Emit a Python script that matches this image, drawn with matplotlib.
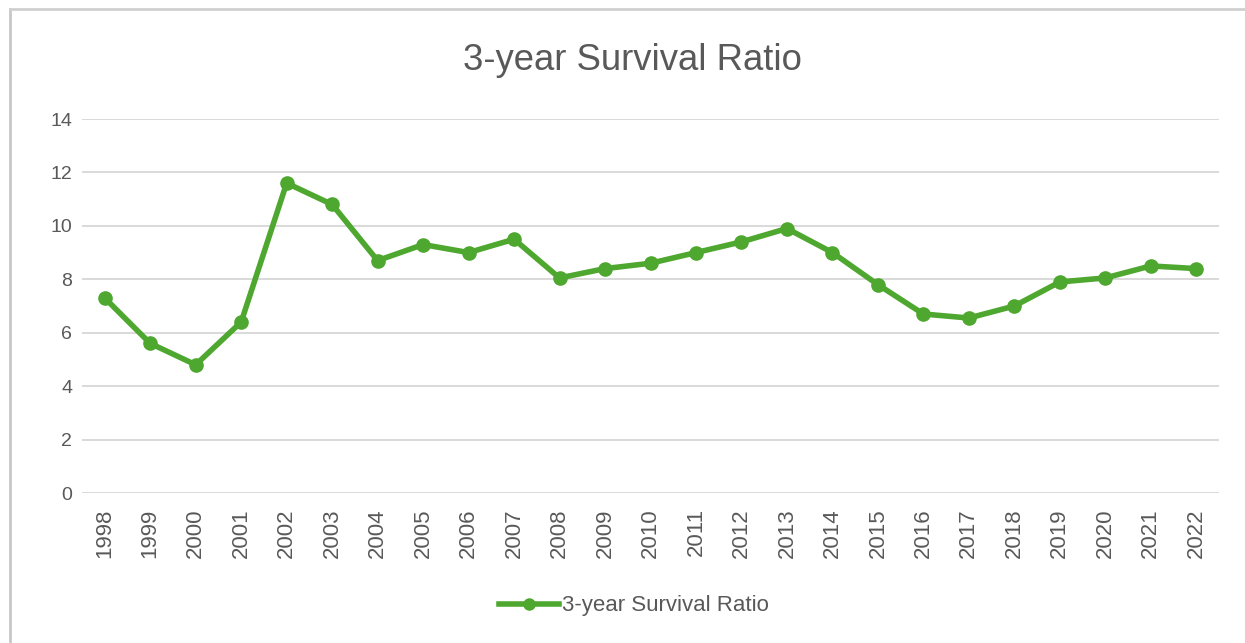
import matplotlib
matplotlib.use("Agg")
import matplotlib.pyplot as plt
from matplotlib.lines import Line2D

years = [str(y) for y in range(1998, 2023)]
survival_ratio = [7.3, 5.6, 4.8, 6.4, 11.6, 10.8, 8.7, 9.3, 9.0, 9.5,
                  8.05, 8.4, 8.6, 9.0, 9.4, 9.9, 9.0, 7.8, 6.7, 6.55,
                  7.0, 7.9, 8.05, 8.5, 8.4]
y_ticks = [0, 2, 4, 6, 8, 10, 12, 14]

title_text = "3-year Survival Ratio"
series_name = "3-year Survival Ratio"

green = "#4ea72e"
grey_text = "#595959"
grid_color = "#d9d9d9"
regular = ["Liberation Sans", "DejaVu Sans"]

fig = plt.figure(figsize=(12.45, 6.43), dpi=100)
fig.patch.set_facecolor("white")

# chart-area frame (top and left edges)
fig.add_artist(Line2D([10 / 1245, 10 / 1245], [0, 1 - 9 / 643],
                      color="#c8c8c8", lw=2.0, transform=fig.transFigure))
fig.add_artist(Line2D([10 / 1245, 1], [1 - 9 / 643, 1 - 9 / 643],
                      color="#d0d0d0", lw=2.0, transform=fig.transFigure))

ax = fig.add_axes([82 / 1245, 1 - 493 / 643, (1219 - 82) / 1245, (493 - 119) / 643])
x = list(range(len(years)))
ax.plot(x, survival_ratio, color=green, lw=4.0, marker="o", markersize=9.5,
        markerfacecolor=green, markeredgecolor=green, solid_joinstyle="round",
        label=series_name, zorder=3)

ax.set_xlim(-0.5, len(years) - 0.5)
ax.set_ylim(0, 14)
ax.set_yticks(y_ticks)
ax.set_yticklabels([str(v) for v in y_ticks], fontfamily=regular, fontsize=14,
                   color=grey_text)
ax.set_xticks(x)
ax.set_xticklabels(years, rotation=90, fontfamily=regular, fontsize=16,
                   color=grey_text)
ax.tick_params(axis="both", length=0)
ax.tick_params(axis="y", pad=7)
ax.tick_params(axis="x", pad=11)
ax.grid(axis="y", color=grid_color, lw=1.4)
ax.set_axisbelow(True)
for s in ax.spines.values():
    s.set_visible(False)

fig.text(632 / 1245, 1 - 60 / 643, title_text, ha="center", va="center",
         fontsize=26.3, fontfamily=regular, color=grey_text)

handle = Line2D([], [], color=green, lw=4.0, marker="o", markersize=8)
fig.legend([handle], [series_name], loc="center", bbox_to_anchor=(634 / 1245, 1 - 606 / 643),
           frameon=False, prop={"family": regular, "size": 16}, labelcolor=grey_text,
           handlelength=2.7, handletextpad=0.15)

fig.savefig("out.png", dpi=100, facecolor="white")
